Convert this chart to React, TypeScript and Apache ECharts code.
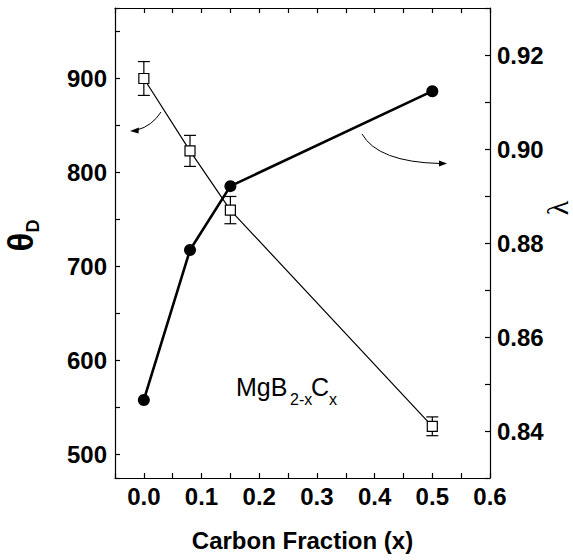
import React, { useEffect, useRef } from 'react';
import * as echarts from 'echarts';

// ---- data ----
const carbonFraction = [0, 0.08, 0.15, 0.5];
const thetaD = [900, 823, 760, 530];
const thetaErr = [18, 16.5, 14.5, 10];
const lambda = [0.8466, 0.8785, 0.8921, 0.9123];

const xTitle = 'Carbon Fraction (x)';

const FONT = '"Liberation Sans", Arial, Helvetica, sans-serif';

export default function App() {
  const ref = useRef<HTMLDivElement>(null);

  useEffect(() => {
    document.body.style.margin = '0';
    if (!ref.current) return;
    const chart = echarts.init(ref.current, null, { renderer: 'svg' });

    const squareData = carbonFraction.map((x, i) => [x, thetaD[i]]);
    const errData = carbonFraction.map((x, i) => [x, thetaD[i], thetaErr[i]]);
    const circleData = carbonFraction.map((x, i) => [x, lambda[i]]);

    const axisLineStyle = { show: true, onZero: false, lineStyle: { color: '#000', width: 1.2 } };
    const tickStyle = { show: true, inside: true, length: 5, lineStyle: { color: '#000', width: 1.2 } };
    const labelStyle = { color: '#000', fontFamily: FONT, fontWeight: 'bold' as const, fontSize: 24 };

    chart.setOption({
      animation: false,
      backgroundColor: '#fff',
      grid: { left: 115, right: 83, top: 8, bottom: 82, containLabel: false, outerBoundsMode: 'none' },
      xAxis: [
        {
          type: 'value',
          position: 'bottom',
          min: -0.05,
          max: 0.6,
          interval: 0.05,
          axisLine: axisLineStyle,
          axisTick: tickStyle,
          splitLine: { show: false },
          axisLabel: {
            ...labelStyle,
            margin: 6,
            showMinLabel: true,
            showMaxLabel: true,
            formatter: (v: number) => {
              const k = Math.round(v * 100);
              return k >= 0 && k % 10 === 0 ? (k / 100).toFixed(1) : '';
            },
          },
          name: xTitle,
          nameLocation: 'middle',
          nameGap: 50,
          nameTextStyle: { color: '#000', fontFamily: FONT, fontWeight: 'bold', fontSize: 24 },
        },
        {
          type: 'value',
          position: 'top',
          min: -0.05,
          max: 0.6,
          interval: 0.05,
          axisLine: axisLineStyle,
          axisTick: tickStyle,
          axisLabel: { show: false },
          splitLine: { show: false },
        },
      ],
      yAxis: [
        {
          type: 'value',
          position: 'left',
          min: 475,
          max: 975,
          splitNumber: 5,
          axisLine: axisLineStyle,
          axisTick: tickStyle,
          minorTick: { show: true, splitNumber: 2, length: 5, lineStyle: { color: '#000', width: 1.2 } },
          splitLine: { show: false },
          minorSplitLine: { show: false },
          axisLabel: {
            ...labelStyle,
            margin: 8,
            showMinLabel: true,
            showMaxLabel: true,
            formatter: (v: number) => (Math.round(v) % 100 === 0 ? String(Math.round(v)) : ''),
          },
        },
        {
          type: 'value',
          position: 'right',
          min: 0.83,
          max: 0.93,
          interval: 0.01,
          axisLine: axisLineStyle,
          axisTick: tickStyle,
          splitLine: { show: false },
          axisLabel: {
            ...labelStyle,
            margin: 7,
            showMinLabel: true,
            showMaxLabel: true,
            formatter: (v: number) => {
              const k = Math.round(v * 100);
              return k % 2 === 0 ? (k / 100).toFixed(2) : '';
            },
          },
        },
      ],
      series: [
        {
          type: 'custom',
          name: 'errors',
          xAxisIndex: 0,
          yAxisIndex: 0,
          data: errData,
          encode: { x: 0, y: 1 },
          z: 2,
          renderItem: (_p: any, api: any) => {
            const x = api.value(0);
            const y = api.value(1);
            const e = api.value(2);
            const top = api.coord([x, y + e]);
            const bot = api.coord([x, y - e]);
            const hw = 6;
            const st = { stroke: '#000', lineWidth: 1.2 };
            return {
              type: 'group',
              children: [
                { type: 'line', shape: { x1: top[0], y1: top[1], x2: bot[0], y2: bot[1] }, style: st },
                { type: 'line', shape: { x1: top[0] - hw, y1: top[1], x2: top[0] + hw, y2: top[1] }, style: st },
                { type: 'line', shape: { x1: bot[0] - hw, y1: bot[1], x2: bot[0] + hw, y2: bot[1] }, style: st },
              ],
            };
          },
        },
        {
          type: 'line',
          name: 'thetaD',
          xAxisIndex: 0,
          yAxisIndex: 0,
          data: squareData,
          z: 3,
          symbol: 'rect',
          symbolSize: 10,
          showAllSymbol: true,
          lineStyle: { color: '#000', width: 1.2 },
          itemStyle: { color: '#fff', borderColor: '#000', borderWidth: 1.2 },
        },
        {
          type: 'line',
          name: 'lambda',
          xAxisIndex: 0,
          yAxisIndex: 1,
          data: circleData,
          z: 4,
          symbol: 'circle',
          symbolSize: 12,
          showAllSymbol: true,
          lineStyle: { color: '#000', width: 2.6 },
          itemStyle: { color: '#000', borderColor: '#000', borderWidth: 0 },
        },
      ],
      graphic: [
        {
          type: 'group',
          x: 20,
          y: 242,
          rotation: Math.PI / 2,
          children: [
            { type: 'text', x: 0, y: 0, style: { text: 'θ', font: `bold 35px ${FONT}`, fill: '#000', align: 'center', verticalAlign: 'middle' } },
            { type: 'text', x: 16, y: 13, style: { text: 'D', font: `bold 18px ${FONT}`, fill: '#000', align: 'center', verticalAlign: 'middle' } },
          ],
        },
        {
          type: 'text',
          x: 557,
          y: 208,
          rotation: Math.PI / 2,
          style: { text: 'λ', font: `30px "Liberation Serif", "Times New Roman", serif`, fill: '#000', align: 'center', verticalAlign: 'middle' },
        },
        { type: 'text', x: 236, y: 387, style: { text: 'MgB', font: `25px ${FONT}`, fill: '#000', align: 'left', verticalAlign: 'middle' } },
        { type: 'text', x: 290, y: 399, style: { text: '2-x', font: `16px ${FONT}`, fill: '#000', align: 'left', verticalAlign: 'middle' } },
        { type: 'text', x: 311, y: 387, style: { text: 'C', font: `25px ${FONT}`, fill: '#000', align: 'left', verticalAlign: 'middle' } },
        { type: 'text', x: 329, y: 399, style: { text: 'x', font: `16px ${FONT}`, fill: '#000', align: 'left', verticalAlign: 'middle' } },
        {
          type: 'bezierCurve',
          shape: { x1: 161, y1: 112, cpx1: 152, cpy1: 126, x2: 137, y2: 130 },
          style: { stroke: '#000', lineWidth: 1, fill: 'none' },
        },
        { type: 'polygon', shape: { points: [[130, 131], [139, 127.5], [138.5, 133.5]] }, style: { fill: '#000' } },
        {
          type: 'bezierCurve',
          shape: { x1: 362, y1: 134, cpx1: 378, cpy1: 162, x2: 440, y2: 163.5 },
          style: { stroke: '#000', lineWidth: 1, fill: 'none' },
        },
        { type: 'polygon', shape: { points: [[447, 163.5], [439, 160.5], [439, 166.5]] }, style: { fill: '#000' } },
      ],
    });

    return () => chart.dispose();
  }, []);

  return <div ref={ref} style={{ width: 573, height: 560, position: 'fixed', left: 0, top: 0 }} />;
}
